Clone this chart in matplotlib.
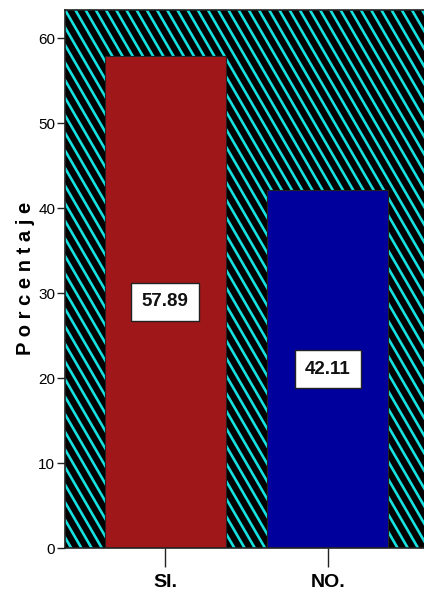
import numpy as np
import matplotlib
matplotlib.use("Agg")
import matplotlib.pyplot as plt
from matplotlib.collections import LineCollection

categories = ["SI.", "NO."]
values = [57.89, 42.11]
bar_colors = ["#A0171A", "#00009C"]
yticks = [0, 10, 20, 30, 40, 50, 60]

narrow = ["Liberation Sans Narrow", "Liberation Sans", "DejaVu Sans"]
wide = ["Liberation Sans", "DejaVu Sans"]

W, H = 424, 602
fig = plt.figure(figsize=(W / 100, H / 100), dpi=100)
# right border of the plot falls just outside the picture
ax = fig.add_axes([65 / W, 54 / H, 363 / W, 538 / H])

ax.set_facecolor("black")

# diagonal cyan stripes over the black background
left_in, bot_in = 65 / 100, 54 / 100
w_in, h_in = 363 / 100, 538 / 100
slope = 0.58
step = 0.102
segs = []
x0 = left_in - h_in * slope - 0.2
while x0 < left_in + w_in + 0.2:
    # from top to bottom going right
    segs.append([(x0, bot_in + h_in + 0.1), (x0 + (h_in + 0.2) * slope, bot_in - 0.1)])
    x0 += step
lc = LineCollection(segs, colors="#16E0E0", linewidths=1.9,
                    transform=fig.dpi_scale_trans, zorder=0.5)
lc.set_clip_path(ax.patch)
ax.add_collection(lc, autolim=False)

x = np.arange(len(categories))
bars = ax.bar(x, values, width=0.745, color=bar_colors, edgecolor="#222222",
              linewidth=0.8, zorder=2)

for xi, v in zip(x, values):
    ax.text(xi, v / 2, f"{v:.2f}", ha="center", va="center", fontsize=13.5,
            fontweight="bold", family=narrow, color="#111111", zorder=4,
            bbox=dict(boxstyle="square,pad=0.55", facecolor="white",
                      edgecolor="#222222", linewidth=1.0))

ax.set_xlim(-0.616, 1.616)
ax.set_ylim(0, 63.3)
ax.set_xticks(x)
ax.set_xticklabels(categories, fontsize=14, fontweight="bold", family=narrow)
ax.set_yticks(yticks)
ax.set_yticklabels([str(t) for t in yticks], fontsize=11, family=narrow)
ax.tick_params(axis="x", length=14, width=1, pad=5, color="#222222")
ax.tick_params(axis="y", length=6, width=1, pad=1, color="#222222")

for s in ["left", "bottom", "top"]:
    ax.spines[s].set_color("#222222")
    ax.spines[s].set_linewidth(1.2)
ax.spines["right"].set_visible(False)

fig.text(26 / W, 1 - 278 / H, "P o r c e n t a j e", rotation=90, ha="center",
         va="center", fontsize=14.5, fontweight="bold", family=wide)

fig.savefig("out.png", dpi=100, facecolor="white")
